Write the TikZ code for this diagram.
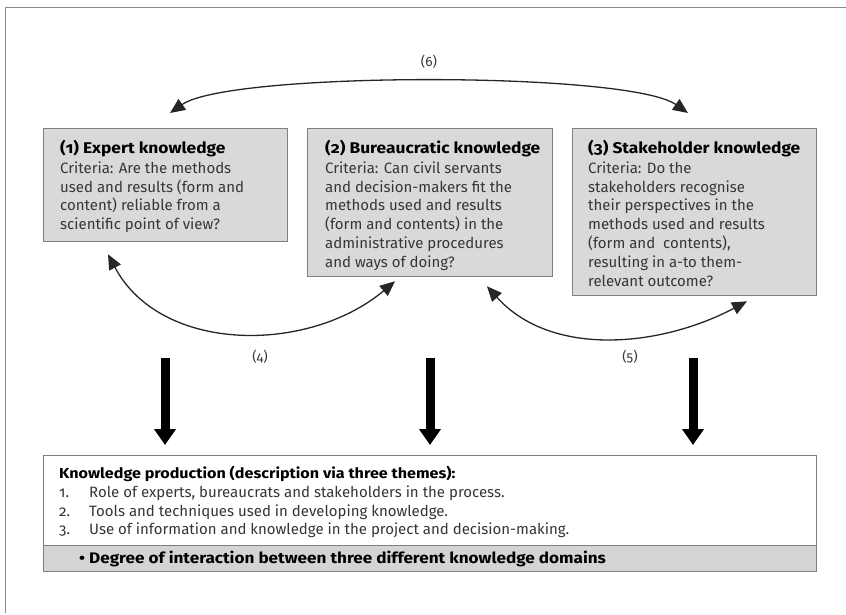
\documentclass[tikz,border=0pt]{standalone}
\usepackage{fontspec}
\setmainfont{Fira Sans}[Numbers=OldStyle, BoldFeatures={FakeStretch=1.12}]
\usetikzlibrary{arrows.meta,calc}

\definecolor{boxfill}{HTML}{D9D9D9}
\definecolor{bandfill}{HTML}{D4D4D4}
\definecolor{boxline}{HTML}{7F7F7F}
\definecolor{bodytext}{HTML}{363636}
\definecolor{framegray}{HTML}{8A8A8A}

\newcommand{\boxhead}[1]{\textcolor{black}{\fontsize{15.5}{19}\selectfont\bfseries #1}}

\begin{document}
\begin{tikzpicture}[x=1pt,y=1pt,
  kbox/.style={draw=boxline, line width=1.3pt, fill=boxfill, anchor=north west,
    inner sep=0pt},
  ktext/.style={anchor=north west, inner sep=0pt, align=left, text=bodytext,
    font=\fontsize{15}{18.8}\selectfont},
  link/.style={draw=black!85, line width=1.3pt,
    {Triangle[length=15pt,width=13pt]}-{Triangle[length=15pt,width=13pt]}},
  down/.style={draw=black, line width=9pt, -{Triangle[length=16pt,width=21pt]}},
  lbl/.style={text=bodytext, font=\fontsize{13.5}{15}\selectfont, inner sep=1pt},
]
\useasboundingbox (0,0) rectangle (846,-615);

% outer frame (top and left edges)
\draw[framegray, line width=1pt] (5,-613) -- (5,-8) -- (846,-8);

% the three knowledge domains
\node[kbox, minimum width=244pt, minimum height=113pt] (b1) at (43,-128) {};
\node[kbox, minimum width=245pt, minimum height=148pt] (b2) at (307,-128) {};
\node[kbox, minimum width=244pt, minimum height=167pt] (b3) at (572,-128) {};

\node[ktext] (t1) at ($(b1.north west)+(17,-12)$)
  {\boxhead{(1) Expert knowledge}\\[1pt]
   Criteria: Are the methods\\
   used and results (form and\\
   content) reliable from a\\
   scientific point of view?};
\node[ktext] (t2) at ($(b2.north west)+(18,-12)$)
  {\boxhead{(2) Bureaucratic knowledge}\\[1pt]
   Criteria: Can civil servants\\
   and decision-makers fit the\\
   methods used and results\\
   (form and contents) in the\\
   administrative procedures\\
   and ways of doing?};
\node[ktext] (t3) at ($(b3.north west)+(16,-12)$)
  {\boxhead{(3) Stakeholder knowledge}\\[1pt]
   Criteria: Do the\\
   stakeholders recognise\\
   their perspectives in the\\
   methods used and results\\
   (form and\ \ contents),\\
   resulting in a-to them-\\
   relevant outcome?};

% knowledge production box with its bottom band
\node[draw=boxline, line width=1.3pt, fill=white, anchor=north west, inner sep=0pt,
  minimum width=773pt, minimum height=116pt] (kp) at (43,-455) {};
\node[draw=boxline, line width=1.3pt, fill=bandfill, anchor=north west, inner sep=0pt,
  minimum width=773pt, minimum height=26pt] (band) at (43,-545) {};

\node[ktext] (kpt) at ($(kp.north west)+(16,-11)$)
  {\textcolor{black}{\fontsize{14.4}{19}\selectfont\bfseries Knowledge production (description via three themes):}\\
   \makebox[30pt][l]{1.}Role of experts, bureaucrats and stakeholders in the process.\\
   \makebox[30pt][l]{2.}Tools and techniques used in developing knowledge.\\
   \makebox[30pt][l]{3.}Use of information and knowledge in the project and decision-making.};
\node[anchor=west, inner sep=0pt, font=\fontsize{15.3}{19}\selectfont\bfseries]
  (bandt) at ($(band.west)+(36,0)$)
  {\makebox[10pt][l]{•}Degree of interaction between three different knowledge domains};

% interaction arcs
\coordinate (a6l) at ($(b1.north west)+(127,15)$);
\coordinate (a6r) at ($(b3.north west)+(116,15)$);
\draw[link] (a6l) to[out=35,in=145,looseness=0.36]
  node[lbl, pos=0.5, above=12pt] (l6) {(6)} (a6r);

\coordinate (a4l) at ($(b1.south west)+(65,-12)$);
\coordinate (a4r) at ($(b2.south west)+(88,-4)$);
\draw[link] (a4l) to[out=-62,in=-140] (a4r);
\node[lbl] (l4) at (260,-357) {(4)};

\coordinate (a5l) at ($(b2.south west)+(180,-9)$);
\coordinate (a5r) at ($(b3.south west)+(175,-5)$);
\draw[link] (a5l) to[out=-48,in=-152,looseness=0.95] (a5r);
\node[lbl] (l5) at (630,-357) {(5)};

% contributions of each domain to knowledge production
\coordinate (d1) at (165,-358);
\coordinate (d2) at (430,-358);
\coordinate (d3) at (693,-358);
\draw[down, shorten >=10pt] (d1) -- (d1 |- kp.north);
\draw[down, shorten >=10pt] (d2) -- (d2 |- kp.north);
\draw[down, shorten >=10pt] (d3) -- (d3 |- kp.north);
\end{tikzpicture}
\end{document}
